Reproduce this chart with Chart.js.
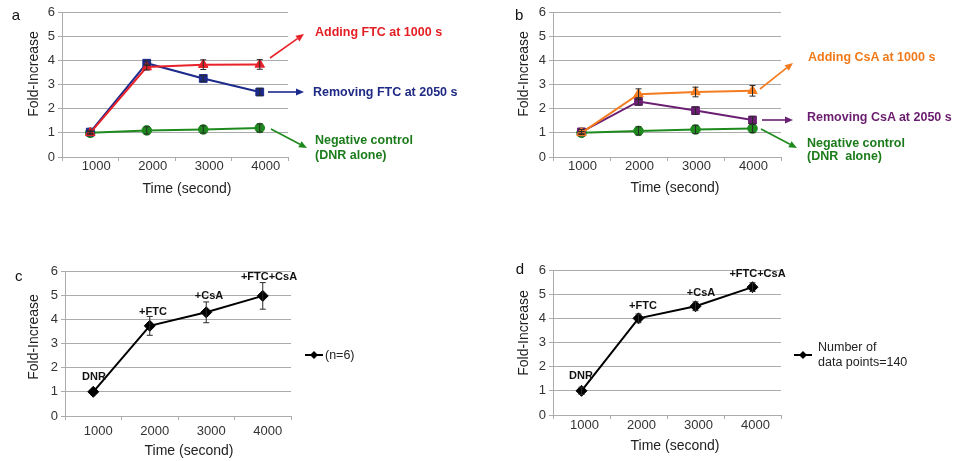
<!DOCTYPE html>
<html><head><meta charset="utf-8">
<script src="https://cdn.jsdelivr.net/npm/chart.js@4/dist/chart.umd.min.js"></script>
<style>
html,body{margin:0;padding:0;background:#fff;}
body{width:953px;height:461px;position:relative;overflow:hidden;font-family:"Liberation Sans",Arial,sans-serif;}
canvas{position:absolute;}
.t{position:absolute;white-space:pre;}
.ann{font-weight:bold;font-size:12.5px;line-height:15px;}
.pl{font-weight:bold;font-size:11px;line-height:13px;transform:translateX(-50%);color:#111;}
.lg{font-size:12.5px;line-height:15px;color:#222;}
.letter{font-size:15px;line-height:15px;color:#111;}
.xt{font-size:14px;line-height:16px;color:#222;transform:translate(-50%,-50%);}
.yt{font-size:14px;line-height:16px;color:#222;transform:translate(-50%,-50%) rotate(-90deg);}
</style></head><body>
<canvas id="ca" width="470" height="200" style="left:0;top:0"></canvas>
<canvas id="cb" width="463" height="200" style="left:490px;top:0"></canvas>
<canvas id="cc" width="470" height="211" style="left:0;top:250px"></canvas>
<canvas id="cd" width="463" height="211" style="left:490px;top:250px"></canvas>

<div class="t letter" style="left:11.7px;top:7.3px">a</div>
<div class="t letter" style="left:515px;top:6.6px">b</div>
<div class="t letter" style="left:15px;top:268px">c</div>
<div class="t letter" style="left:515.7px;top:260.6px">d</div>

<div class="t yt" style="left:33px;top:74px">Fold-Increase</div>
<div class="t yt" style="left:523px;top:74px">Fold-Increase</div>
<div class="t yt" style="left:33px;top:337px">Fold-Increase</div>
<div class="t yt" style="left:523px;top:333px">Fold-Increase</div>

<div class="t xt" style="left:187px;top:188px">Time (second)</div>
<div class="t xt" style="left:675px;top:187px">Time (second)</div>
<div class="t xt" style="left:189px;top:450px">Time (second)</div>
<div class="t xt" style="left:675px;top:445px">Time (second)</div>

<div class="t ann" style="left:315px;top:24.6px;color:#e31e24">Adding FTC at 1000 s</div>
<div class="t ann" style="left:313px;top:84.6px;color:#1f2a85">Removing FTC at 2050 s</div>
<div class="t ann" style="left:315px;top:133.3px;color:#1c7c1c">Negative control
(DNR alone)</div>

<div class="t ann" style="left:808px;top:49.6px;color:#f07a1a">Adding CsA at 1000 s</div>
<div class="t ann" style="left:807px;top:109.6px;color:#6a1d6e">Removing CsA at 2050 s</div>
<div class="t ann" style="left:807px;top:136.6px;line-height:13px;color:#1c7c1c">Negative control
(DNR  alone)</div>

<div class="t pl" style="left:94px;top:369.6px">DNR</div>
<div class="t pl" style="left:153px;top:304.6px">+FTC</div>
<div class="t pl" style="left:209px;top:288.6px">+CsA</div>
<div class="t pl" style="left:269px;top:269.6px">+FTC+CsA</div>

<div class="t pl" style="left:581px;top:368.6px">DNR</div>
<div class="t pl" style="left:643px;top:298.6px">+FTC</div>
<div class="t pl" style="left:701px;top:285.6px">+CsA</div>
<div class="t pl" style="left:757.5px;top:266.6px">+FTC+CsA</div>

<div class="t lg" style="left:325px;top:347.6px">(n=6)</div>
<div class="t lg" style="left:818px;top:339.6px">Number of
data points=140</div>

<script>
const FONT = '"Liberation Sans", Arial, sans-serif';

// ---- data ----
const categories = ['1000', '2000', '3000', '4000'];
const yTickValues = [0, 1, 2, 3, 4, 5, 6];

// panel a
const aAddingFTC = [1.0, 3.72, 3.82, 3.83];
const aAddingFTCErr = [0.05, 0.12, 0.2, 0.2];
const aRemovingFTC = [1.03, 3.88, 3.25, 2.69];
const aRemovingFTCErr = [0.08, 0.1, 0.12, 0.15];
const aControl = [1.0, 1.1, 1.14, 1.2];
const aControlErr = [0.05, 0.15, 0.15, 0.17];

// panel b
const bAddingCsA = [1.0, 2.6, 2.69, 2.74];
const bAddingCsAErr = [0.05, 0.22, 0.2, 0.22];
const bRemovingCsA = [1.04, 2.3, 1.92, 1.53];
const bRemovingCsAErr = [0.1, 0.15, 0.15, 0.15];
const bControl = [1.0, 1.08, 1.14, 1.18];
const bControlErr = [0.05, 0.17, 0.17, 0.17];

// panel c (n=6)
const cValues = [1.0, 3.73, 4.29, 4.97];
const cErr = [0, 0.39, 0.43, 0.55];

// panel d (140 data points)
const dValues = [1.0, 4.0, 4.5, 5.29];
const dErr = [0.15, 0.18, 0.18, 0.18];

// ---- plugins ----
const errorBars = {
  id: 'errorBars',
  afterDatasetsDraw(chart) {
    const ctx = chart.ctx, y = chart.scales.y;
    chart.data.datasets.forEach((ds, i) => {
      if (!ds.errors) return;
      const meta = chart.getDatasetMeta(i);
      ctx.save();
      ctx.strokeStyle = '#2a2a2a';
      ctx.lineWidth = 1;
      meta.data.forEach((pt, j) => {
        const e = ds.errors[j];
        if (!e) return;
        const v = ds.data[j];
        const t = y.getPixelForValue(v + e), b = y.getPixelForValue(v - e);
        ctx.beginPath();
        ctx.moveTo(pt.x, t); ctx.lineTo(pt.x, b);
        ctx.moveTo(pt.x - 3, t); ctx.lineTo(pt.x + 3, t);
        ctx.moveTo(pt.x - 3, b); ctx.lineTo(pt.x + 3, b);
        ctx.stroke();
      });
      ctx.restore();
    });
  }
};

function overlay(arrows, key) {
  return {
    id: 'overlay',
    afterDraw(chart) {
      const ctx = chart.ctx;
      ctx.save();
      (arrows || []).forEach(a => {
        const [x1, y1] = a.from, [x2, y2] = a.to;
        const ang = Math.atan2(y2 - y1, x2 - x1);
        const L = 8, W = 3.5;
        const bx = x2 - L * Math.cos(ang), by = y2 - L * Math.sin(ang);
        ctx.strokeStyle = a.color; ctx.fillStyle = a.color; ctx.lineWidth = 1.6;
        ctx.beginPath(); ctx.moveTo(x1, y1); ctx.lineTo(bx, by); ctx.stroke();
        ctx.beginPath();
        ctx.moveTo(x2, y2);
        ctx.lineTo(bx + W * Math.sin(ang), by - W * Math.cos(ang));
        ctx.lineTo(bx - W * Math.sin(ang), by + W * Math.cos(ang));
        ctx.closePath(); ctx.fill();
      });
      if (key) {
        ctx.strokeStyle = '#000'; ctx.fillStyle = '#000'; ctx.lineWidth = 2;
        ctx.beginPath(); ctx.moveTo(key.x1, key.y); ctx.lineTo(key.x2, key.y); ctx.stroke();
        const cx = (key.x1 + key.x2) / 2, r = 4;
        ctx.beginPath();
        ctx.moveTo(cx, key.y - r); ctx.lineTo(cx + r, key.y); ctx.lineTo(cx, key.y + r); ctx.lineTo(cx - r, key.y);
        ctx.closePath(); ctx.fill();
      }
      ctx.restore();
    }
  };
}

function makeChart(id, cfg) {
  const datasets = cfg.series.map(s => ({
    label: s.label, data: s.data, errors: s.err,
    borderColor: s.color, backgroundColor: s.color, borderWidth: 2,
    pointStyle: s.marker, pointRadius: s.radius,
    pointBorderColor: s.color, pointBackgroundColor: s.color, pointBorderWidth: 1,
    tension: 0, fill: false
  }));
  const gridColor = '#ababab';
  return new Chart(document.getElementById(id), {
    type: 'line',
    data: { labels: categories, datasets },
    plugins: [errorBars, overlay(cfg.arrows, cfg.key)],
    options: {
      responsive: false, animation: false, devicePixelRatio: 1,
      layout: { padding: cfg.pad },
      plugins: { legend: { display: false }, tooltip: { enabled: false } },
      scales: {
        x: {
          type: 'category', offset: true,
          grid: { drawOnChartArea: false, offset: true, tickLength: 4, color: gridColor },
          border: { color: gridColor },
          ticks: { font: { family: FONT, size: 13 }, color: '#333', padding: cfg.xPad,
                   labelOffset: cfg.labelOffset, maxRotation: 0, autoSkip: false },
          afterFit(s) { s.height = cfg.xH; }
        },
        y: {
          min: yTickValues[0], max: yTickValues[yTickValues.length - 1],
          ticks: { stepSize: 1, font: { family: FONT, size: 13 }, color: '#333', padding: 3 },
          grid: { color: gridColor, tickLength: 4 },
          border: { color: gridColor },
          afterFit(s) { s.width = cfg.yW; }
        }
      }
    }
  });
}

makeChart('ca', {
  pad: { left: 0, top: 12, right: 182, bottom: 0 }, yW: 62, xH: 43, xPad: -2, labelOffset: 6,
  series: [
    { label: 'Adding FTC at 1000 s', data: aAddingFTC, err: aAddingFTCErr, color: '#e8222a', marker: 'triangle', radius: 5.5 },
    { label: 'Removing FTC at 2050 s', data: aRemovingFTC, err: aRemovingFTCErr, color: '#1c2a8c', marker: 'rect', radius: 5.5 },
    { label: 'Negative control (DNR alone)', data: aControl, err: aControlErr, color: '#1e8a1e', marker: 'circle', radius: 4.8 }
  ],
  arrows: [
    { from: [270, 58], to: [304, 34], color: '#e8222a' },
    { from: [268, 92], to: [304, 92], color: '#1c2a8c' },
    { from: [271, 129], to: [307, 148], color: '#1e8a1e' }
  ]
});

makeChart('cb', {
  pad: { left: 0, top: 12, right: 172, bottom: 0 }, yW: 63, xH: 43, xPad: -2, labelOffset: 1,
  series: [
    { label: 'Adding CsA at 1000 s', data: bAddingCsA, err: bAddingCsAErr, color: '#f47b20', marker: 'triangle', radius: 5.5 },
    { label: 'Removing CsA at 2050 s', data: bRemovingCsA, err: bRemovingCsAErr, color: '#6b1f72', marker: 'rect', radius: 5.5 },
    { label: 'Negative control (DNR alone)', data: bControl, err: bControlErr, color: '#1e8a1e', marker: 'circle', radius: 4.8 }
  ],
  arrows: [
    { from: [270, 89], to: [303, 63], color: '#f47b20' },
    { from: [272, 120], to: [303, 120], color: '#6b1f72' },
    { from: [271, 129], to: [307, 148], color: '#1e8a1e' }
  ]
});

makeChart('cc', {
  pad: { left: 0, top: 21, right: 179, bottom: 0 }, yW: 65, xH: 45, xPad: 4, labelOffset: 5,
  series: [
    { label: '(n=6)', data: cValues, err: cErr, color: '#000', marker: 'rectRot', radius: 5.5 }
  ],
  key: { x1: 305, x2: 323, y: 105 }
});

makeChart('cd', {
  pad: { left: 0, top: 20, right: 172, bottom: 0 }, yW: 63, xH: 46, xPad: -1, labelOffset: 3,
  series: [
    { label: 'Number of data points=140', data: dValues, err: dErr, color: '#000', marker: 'rectRot', radius: 5.5 }
  ],
  key: { x1: 304, x2: 322, y: 105 }
});
</script>
</body></html>
